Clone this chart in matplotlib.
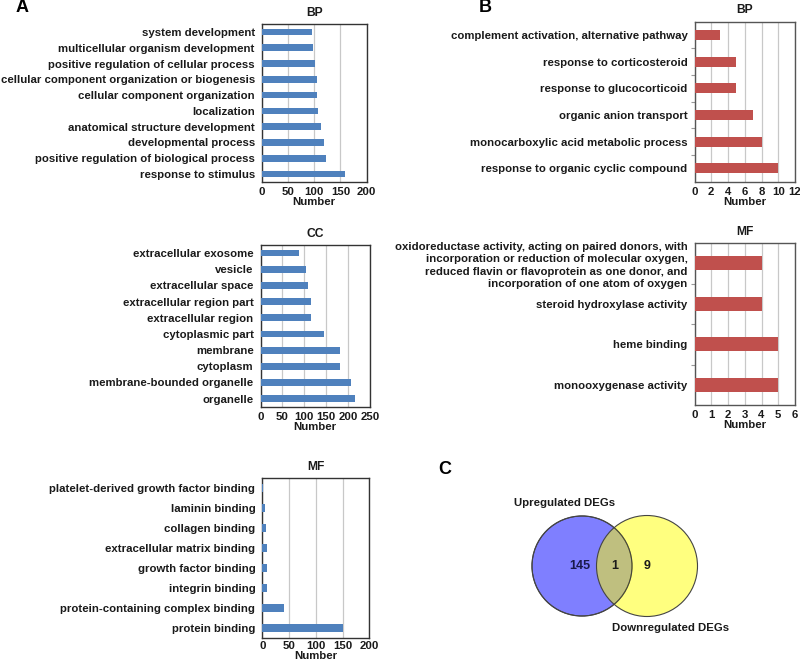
import matplotlib
matplotlib.use("Agg")
import matplotlib.pyplot as plt
from matplotlib.patches import Circle
import numpy as np

plt.rcParams['font.family'] = ['Liberation Sans', 'DejaVu Sans']
plt.rcParams['font.weight'] = 'bold'

# ---- data ----
a_bp_terms = ["system development", "multicellular organism development",
              "positive regulation of cellular process",
              "cellular component organization or biogenesis",
              "cellular component organization", "localization",
              "anatomical structure development", "developmental process",
              "positive regulation of biological process", "response to stimulus"]
a_bp_vals = [96, 98, 101, 105, 105, 108, 112, 119, 122, 159]

a_cc_terms = ["extracellular exosome", "vesicle", "extracellular space",
              "extracellular region part", "extracellular region",
              "cytoplasmic part", "membrane", "cytoplasm",
              "membrane-bounded organelle", "organelle"]
a_cc_vals = [87, 105, 109, 115, 116, 144, 181, 182, 206, 216]

a_mf_terms = ["platelet-derived growth factor binding", "laminin binding",
              "collagen binding", "extracellular matrix binding",
              "growth factor binding", "integrin binding",
              "protein-containing complex binding", "protein binding"]
a_mf_vals = [2, 5, 7, 8, 9, 9, 40, 151]

b_bp_terms = ["complement activation, alternative pathway",
              "response to corticosteroid", "response to glucocorticoid",
              "organic anion transport", "monocarboxylic acid metabolic process",
              "response to organic cyclic compound"]
b_bp_vals = [3, 5, 5, 7, 8, 10]

b_mf_terms = ["oxidoreductase activity, acting on paired donors, with\n"
              "incorporation or reduction of molecular oxygen,\n"
              "reduced flavin or flavoprotein as one donor, and\n"
              "incorporation of one atom of oxygen",
              "steroid hydroxylase activity", "heme binding",
              "monooxygenase activity"]
b_mf_vals = [4, 4, 5, 5]

venn_labels = ["Upregulated DEGs", "Downregulated DEGs"]
venn_counts = [145, 1, 9]  # up only, both, down only

W, H = 800, 664
fig = plt.figure(figsize=(8, 6.64), dpi=100)

BLUE = "#4F81BD"
RED = "#C0504D"
TXT = "#1a1a1a"
FS = 8.2


def px_axes(l, t, r, b):
    return fig.add_axes([l / W, 1 - b / H, (r - l) / W, (b - t) / H])


def barpanel(rect, terms, vals, color, xmax, step, title, height, frame, cat_ticks, xpad=3.5):
    ax = px_axes(*rect)
    y = np.arange(len(terms))
    ax.barh(y, vals, height=height, color=color, zorder=3)
    ax.set_ylim(len(terms) - 0.5, -0.5)
    ax.set_xlim(0, xmax)
    ax.set_xticks(np.arange(0, xmax + step / 2, step))
    ax.xaxis.grid(True, color="#c8c8c8", lw=0.9, zorder=0)
    ax.set_yticks(y)
    ax.set_yticklabels(terms, fontsize=FS, fontweight='bold', color=TXT,
                       multialignment='right', linespacing=1.3)
    ax.tick_params(axis='y', length=0, pad=5)
    ax.tick_params(axis='x', length=0, pad=xpad, labelsize=FS, labelcolor=TXT)
    for lab in ax.get_xticklabels():
        lab.set_fontweight('bold')
    if cat_ticks:
        ax.set_yticks(np.arange(len(terms) - 1) + 0.5, minor=True)
        ax.tick_params(axis='y', which='minor', length=3, color="#999999", width=0.8)
    for s in ax.spines.values():
        s.set_color(frame)
        s.set_linewidth(1.0)
    ax.set_title(title, fontsize=FS + 0.5, fontweight='bold', color=TXT, pad=6)
    ax.set_xlabel("Number", fontsize=FS, fontweight='bold', color=TXT, labelpad=0)
    return ax


barpanel((261.7, 24, 366.7, 182), a_bp_terms, a_bp_vals, BLUE, 200, 50, "BP", 0.42, "#333333", False)
barpanel((260.5, 245, 370, 406.7), a_cc_terms, a_cc_vals, BLUE, 250, 50, "CC", 0.42, "#333333", False)
barpanel((262.3, 478, 369.3, 638), a_mf_terms, a_mf_vals, BLUE, 200, 50, "MF", 0.42, "#333333", False, xpad=2.5)
barpanel((694.5, 21.7, 795, 181.7), b_bp_terms, b_bp_vals, RED, 12, 2, "BP", 0.37, "#555555", True)
barpanel((694.5, 243, 795, 405), b_mf_terms, b_mf_vals, RED, 6, 1, "MF", 0.35, "#555555", True)

# ---- Venn diagram ----
vax = fig.add_axes([0, 0, 1, 1], zorder=5)
vax.set_xlim(0, W)
vax.set_ylim(H, 0)
vax.axis('off')
vax.patch.set_alpha(0)
vax.add_patch(Circle((582, 566), 50, facecolor=(0, 0, 1, 0.5), edgecolor="#444444", lw=0.8))
vax.add_patch(Circle((647, 566), 50.5, facecolor=(1, 1, 0, 0.5), edgecolor="#444444", lw=0.8))
vax.add_patch(Circle((582, 566), 50, facecolor='none', edgecolor="#444444", lw=0.8))
vax.text(580, 566, str(venn_counts[0]), ha='center', va='center', fontsize=9,
         fontweight='bold', color="#1a1a4a")
vax.text(615, 566, str(venn_counts[1]), ha='center', va='center', fontsize=9,
         fontweight='bold', color=TXT)
vax.text(647, 566, str(venn_counts[2]), ha='center', va='center', fontsize=9,
         fontweight='bold', color=TXT)
vax.text(565, 503, venn_labels[0], ha='center', va='center', fontsize=FS,
         fontweight='bold', color=TXT)
vax.text(671, 628, venn_labels[1], ha='center', va='center', fontsize=FS,
         fontweight='bold', color=TXT)

# panel letters
fig.text(16 / W, 1 - 8 / H, "A", fontsize=13, fontweight='bold', va='center', ha='left')
fig.text(479 / W, 1 - 8 / H, "B", fontsize=13, fontweight='bold', va='center', ha='left')
fig.text(438 / W, 1 - 469 / H, "C", fontsize=13, fontweight='bold', va='center', ha='left')

fig.savefig("out.png", dpi=100)
